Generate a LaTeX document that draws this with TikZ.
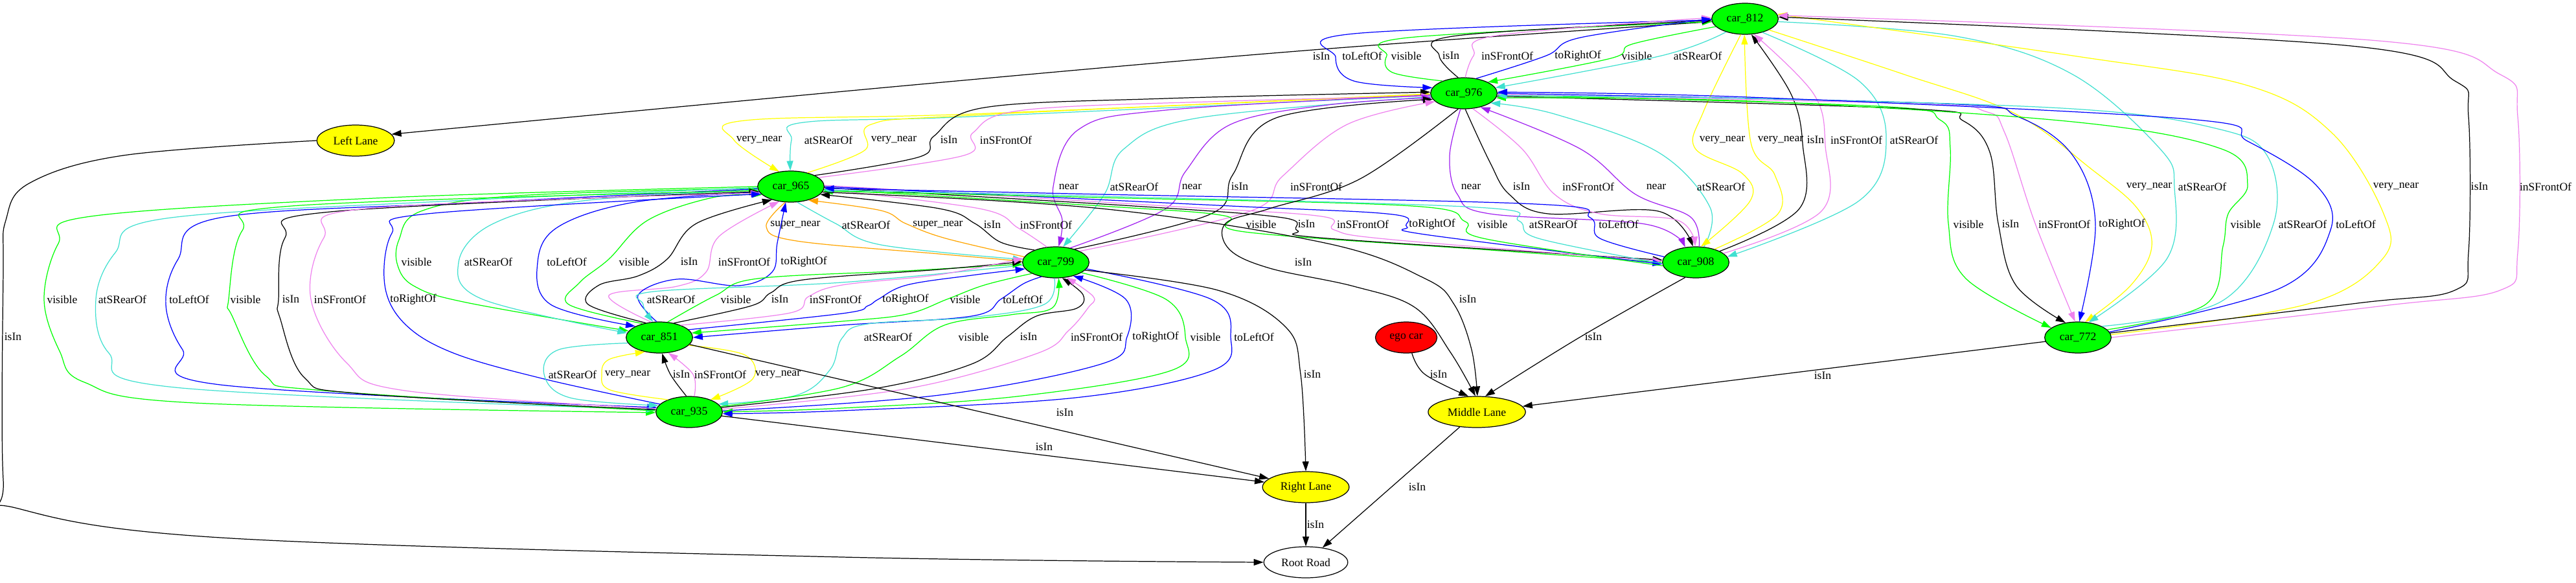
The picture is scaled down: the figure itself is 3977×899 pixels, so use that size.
\documentclass[tikz,border=0pt]{standalone}
\usepackage{fontspec}
\setmainfont{Liberation Serif}
\usepackage{tikz}
\usetikzlibrary{shapes.geometric, arrows.meta}
\definecolor{gvgreen}{RGB}{0,255,0}
\definecolor{gvblue}{RGB}{0,0,255}
\definecolor{gvturq}{RGB}{64,224,208}
\definecolor{gvviolet}{RGB}{238,130,238}
\definecolor{gvyellow}{RGB}{255,255,0}
\definecolor{gvorange}{RGB}{255,165,0}
\definecolor{gvpurple}{RGB}{160,32,240}
\definecolor{gvred}{RGB}{255,0,0}

\begin{document}
\begin{tikzpicture}[
            x=0.02cm, y=0.02cm,
            >={Triangle[length=0.3cm,width=0.2cm]},
            basenode/.style = {draw, ellipse, line width=0.7pt, inner xsep=0.16cm, inner ysep=0.1cm, minimum height=0.96cm, minimum width=1.44cm},
            carnode/.style = {basenode, fill=gvgreen},
            lanenode/.style = {basenode, fill=gvyellow},
            egonode/.style = {basenode, fill=gvred},
            roadnode/.style = {basenode, fill=white},
            lbl/.style = {text=black, inner sep=1pt},
            rel/.style = {->, line width=0.7pt, smooth, tension=0.6},
            isin/.style = {rel, color=black},
            leftof/.style = {rel, color=gvblue},
            rightof/.style = {rel, color=gvblue},
            vis/.style = {rel, color=gvgreen},
            rearof/.style = {rel, color=gvturq},
            frontof/.style = {rel, color=gvviolet},
            verynear/.style = {rel, color=gvyellow},
            nearrel/.style = {rel, color=gvpurple},
            supernear/.style = {rel, color=gvorange}
          ]
          \useasboundingbox (0,0) rectangle (3977,-899);

          % nodes
          \node[carnode] (c812) at (2694,-29) {car\_812};
          \node[carnode] (c976) at (2260,-144) {car\_976};
          \node[lanenode] (LL) at (549,-217) {Left Lane};
          \node[carnode] (c965) at (1221,-288) {car\_965};
          \node[carnode] (c799) at (1630,-405) {car\_799};
          \node[carnode] (c908) at (2618,-405) {car\_908};
          \node[carnode] (c851) at (1018,-521) {car\_851};
          \node[egonode] (ego) at (2171,-521) {ego car};
          \node[carnode] (c772) at (3208,-521) {car\_772};
          \node[carnode] (c935) at (1064,-636) {car\_935};
          \node[lanenode] (ML) at (2280,-636) {Middle Lane};
          \node[lanenode] (RL) at (2016,-752) {Right Lane};
          \node[roadnode] (RR) at (2016,-868) {Root Road};

          % car_812 / car_976
          \draw[isin] plot coordinates {(c812.185) (2040,-76) (1400,-132) (LL.10)} node[lbl] at (2040,-87) {isIn};
          \draw[leftof] plot coordinates {(c812.182) (2090,-52) (2062,-88) (2090,-125) (c976.170)} node[lbl] at (2103,-86) {toLeftOf};
          \draw[vis] plot coordinates {(c976.150) (2150,-112) (2141,-86) (2175,-58) (c812.185)} node[lbl] at (2171,-86) {visible};
          \draw[isin] plot coordinates {(c976.110) (2222,-86) (2250,-55) (c812.183)} node[lbl] at (2240,-86) {isIn};
          \draw[frontof] plot coordinates {(c976.85) (2275,-86) (2310,-55) (c812.178)} node[lbl] at (2327,-86) {inSFrontOf};
          \draw[rightof] plot coordinates {(c976.50) (2387,-86) (2440,-58) (c812.180)} node[lbl] at (2436,-86) {toRightOf};
          \draw[vis] plot coordinates {(c812.195) (2520,-68) (2487,-90) (c976.25)} node[lbl] at (2527,-86) {visible};
          \draw[rearof] plot coordinates {(c812.215) (2565,-86) (c976.10)} node[lbl] at (2621,-86) {atSRearOf};

          % car_976 / car_965
          \draw[verynear] plot coordinates {(c976.182) (1500,-176) (1150,-186) (1133,-216) (c965.128)} node[lbl] at (1172,-216) {very\_near};
          \draw[rearof] plot coordinates {(c976.184) (1500,-180) (1240,-189) (1222,-216) (c965.92)} node[lbl] at (1279,-216) {atSRearOf};
          \draw[verynear] plot coordinates {(c965.40) (1335,-232) (1345,-192) (1500,-178) (c976.181)} node[lbl] at (1380,-216) {very\_near};
          \draw[isin] plot coordinates {(c965.25) (1420,-242) (1442,-210) (1520,-166) (1800,-152) (c976.178)} node[lbl] at (1465,-216) {isIn};
          \draw[frontof] plot coordinates {(c965.18) (1488,-240) (1502,-205) (1580,-170) (1900,-156) (c976.185)} node[lbl] at (1553,-216) {inSFrontOf};

          % car_976 / car_799
          \draw[nearrel] plot coordinates {(c976.183) (1800,-170) (1665,-200) (1626,-288) (1640,-340) (c799.80)} node[lbl] at (1650,-288) {near};
          \draw[rearof] plot coordinates {(c976.186) (1850,-182) (1735,-230) (1705,-300) (c799.65)} node[lbl] at (1751,-288) {atSRearOf};
          \draw[nearrel] plot coordinates {(c799.45) (1800,-322) (1830,-265) (1900,-192) (2050,-162) (c976.188)} node[lbl] at (1840,-288) {near};
          \draw[isin] plot coordinates {(c799.35) (1870,-330) (1903,-270) (1970,-182) (c976.191)} node[lbl] at (1914,-288) {isIn};
          \draw[frontof] plot coordinates {(c799.25) (1930,-326) (1980,-272) (2080,-192) (c976.196)} node[lbl] at (2032,-288) {inSFrontOf};

          % car_976 / car_908
          \draw[nearrel] plot coordinates {(c976.258) (2238,-240) (2250,-300) (2300,-330) (2540,-346) (c908.125)} node[lbl] at (2271,-288) {near};
          \draw[isin] plot coordinates {(c976.275) (2300,-250) (2330,-300) (2390,-330) (2560,-326) (c908.100)} node[lbl] at (2349,-288) {isIn};
          \draw[frontof] plot coordinates {(c976.300) (2350,-230) (2400,-300) (2470,-330) (2590,-340) (c908.92)} node[lbl] at (2452,-288) {inSFrontOf};
          \draw[nearrel] plot coordinates {(c908.78) (2610,-335) (2525,-300) (2440,-230) (c976.320)} node[lbl] at (2557,-288) {near};
          \draw[rearof] plot coordinates {(c908.62) (2640,-320) (2560,-235) (2400,-176) (c976.340)} node[lbl] at (2657,-288) {atSRearOf};

          % car_812 / car_908
          \draw[verynear] plot coordinates {(c812.255) (2630,-172) (2617,-229) (2690,-268) (2702,-310) (c908.72)} node[lbl] at (2659,-216) {very\_near};
          \draw[verynear] plot coordinates {(c908.35) (2745,-330) (2740,-270) (2703,-220) (c812.268)} node[lbl] at (2749,-216) {very\_near};
          \draw[isin] plot coordinates {(c908.25) (2778,-322) (2783,-222) (2765,-145) (c812.292)} node[lbl] at (2803,-216) {isIn};
          \draw[frontof] plot coordinates {(c908.18) (2812,-326) (2818,-225) (2800,-145) (c812.300)} node[lbl] at (2866,-216) {inSFrontOf};
          \draw[rearof] plot coordinates {(c812.322) (2870,-125) (2912,-212) (2870,-310) (c908.10)} node[lbl] at (2955,-216) {atSRearOf};

          % car_812 / car_772
          \draw[verynear] plot coordinates {(c812.335) (2940,-115) (3110,-175) (3230,-262) (3300,-322) (3322,-380) (3290,-440) (c772.65)} node[lbl] at (3318,-288) {very\_near};
          \draw[rearof] plot coordinates {(c812.355) (3020,-56) (3200,-115) (3335,-230) (3357,-290) (3345,-400) (c772.55)} node[lbl] at (3400,-288) {atSRearOf};
          \draw[verynear] plot coordinates {(c772.5) (3560,-470) (3678,-400) (3680,-330) (3600,-205) (3470,-132) (3200,-86) (c812.8)} node[lbl] at (3699,-288) {very\_near};
          \draw[isin] plot coordinates {(c772.8) (3640,-468) (3790,-448) (3811,-390) (3811,-180) (3790,-125) (3620,-70) (c812.3)} node[lbl] at (3828,-288) {isIn};
          \draw[frontof] plot coordinates {(c772.0) (3680,-472) (3860,-448) (3887,-390) (3887,-180) (3860,-115) (3660,-62) (c812.6)} node[lbl] at (3930,-288) {inSFrontOf};

          % car_976 / car_772
          \draw[vis] plot coordinates {(c976.357) (2900,-164) (2995,-185) (3011,-230) (3008,-345) (3035,-430) (c772.160)} node[lbl] at (3039,-346) {visible};
          \draw[isin] plot coordinates {(c976.355) (2950,-168) (3030,-186) (3072,-235) (3085,-345) (3112,-440) (c772.130)} node[lbl] at (3104,-346) {isIn};
          \draw[frontof] plot coordinates {(c976.358) (2950,-160) (3065,-172) (3095,-205) (3142,-345) (c772.100)} node[lbl] at (3187,-346) {inSFrontOf};
          \draw[rightof] plot coordinates {(c976.0) (3000,-160) (3115,-180) (3200,-240) (3235,-345) (c772.85)} node[lbl] at (3276,-346) {toRightOf};
          \draw[vis] plot coordinates {(c772.15) (3405,-470) (3432,-380) (3440,-330) (3470,-285) (3430,-230) (3200,-188) (2700,-156) (c976.352)} node[lbl] at (3467,-346) {visible};
          \draw[rearof] plot coordinates {(c772.25) (3430,-465) (3510,-345) (3500,-240) (3420,-198) (3200,-168) (2700,-152) (c976.356)} node[lbl] at (3555,-346) {atSRearOf};
          \draw[leftof] plot coordinates {(c772.10) (3520,-445) (3598,-355) (3575,-285) (3470,-218) (3380,-184) (2700,-150) (c976.2)} node[lbl] at (3637,-346) {toLeftOf};

          % car_965 / car_799
          \draw[supernear] plot coordinates {(c965.250) (1183,-350) (1230,-372) (1450,-392) (c799.178)} node[lbl] at (1228,-347) {super\_near};
          \draw[rearof] plot coordinates {(c965.292) (1290,-345) (1360,-378) (c799.175)} node[lbl] at (1337,-347) {atSRearOf};
          \draw[supernear] plot coordinates {(c799.170) (1460,-368) (1398,-345) (1360,-325) (c965.322)} node[lbl] at (1448,-347) {super\_near};
          \draw[isin] plot coordinates {(c799.150) (1545,-374) (1505,-345) (1450,-322) (c965.345)} node[lbl] at (1532,-347) {isIn};
          \draw[frontof] plot coordinates {(c799.120) (1572,-352) (1512,-322) (c965.355)} node[lbl] at (1615,-347) {inSFrontOf};

          % car_965 / car_908
          \draw[vis] plot coordinates {(c965.355) (1700,-318) (1890,-333) (1922,-358) (2300,-386) (c908.180)} node[lbl] at (1947,-346) {visible};
          \draw[isin] plot coordinates {(c965.358) (1750,-318) (1980,-336) (2003,-356) (2050,-368) (c908.176)} node[lbl] at (2017,-346) {isIn};
          \draw[frontof] plot coordinates {(c965.2) (1800,-318) (2040,-334) (2060,-355) (2150,-370) (c908.178)} node[lbl] at (2104,-346) {inSFrontOf};
          \draw[rightof] plot coordinates {(c965.0) (1900,-318) (2150,-331) (2172,-350) (2200,-362) (c908.183)} node[lbl] at (2211,-346) {toRightOf};
          \draw[vis] plot coordinates {(c908.186) (2290,-368) (2262,-342) (2180,-318) (1700,-305) (c965.352)} node[lbl] at (2304,-346) {visible};
          \draw[rearof] plot coordinates {(c908.182) (2375,-368) (2345,-341) (2280,-320) (1700,-303) (c965.354)} node[lbl] at (2398,-346) {atSRearOf};
          \draw[leftof] plot coordinates {(c908.170) (2470,-368) (2455,-336) (2370,-315) (1700,-300) (c965.357)} node[lbl] at (2499,-346) {toLeftOf};

          % lanes of car_965 and car_976
          \draw[isin] plot coordinates {(c965.350) (1700,-322) (2050,-376) (2200,-430) (2245,-470) (2272,-540) (ML.88)} node[lbl] at (2266,-462) {isIn};
          \draw[isin] plot coordinates {(c976.250) (2100,-276) (1960,-322) (1892,-345) (1898,-385) (1960,-414) (2090,-442) (2185,-475) (2240,-545) (ML.95)} node[lbl] at (2012,-405) {isIn};

          % car_965 / car_851
          \draw[vis] plot coordinates {(c965.183) (800,-302) (650,-326) (616,-370) (614,-410) (640,-442) (720,-467) (c851.168)} node[lbl] at (643,-404) {visible};
          \draw[rearof] plot coordinates {(c965.186) (900,-310) (760,-346) (708,-405) (745,-462) (c851.172)} node[lbl] at (754,-404) {atSRearOf};
          \draw[leftof] plot coordinates {(c965.190) (980,-312) (862,-350) (830,-405) (850,-470) (c851.155)} node[lbl] at (875,-404) {toLeftOf};
          \draw[vis] plot coordinates {(c851.140) (878,-470) (895,-436) (940,-400) (1000,-340) (1100,-305) (c965.196)} node[lbl] at (979,-404) {visible};
          \draw[isin] plot coordinates {(c851.133) (908,-470) (925,-440) (985,-426) (1030,-400) (1075,-345) (c965.215)} node[lbl] at (1064,-404) {isIn};
          \draw[frontof] plot coordinates {(c851.118) (940,-456) (1045,-442) (1090,-420) (1110,-365) (c965.232)} node[lbl] at (1149,-404) {inSFrontOf};
          \draw[rightof] plot coordinates {(c851.100) (985,-456) (1045,-431) (1140,-441) (1192,-420) (1200,-375) (c965.252)} node[lbl] at (1241,-404) {toRightOf};

          % car_965 / car_935
          \draw[vis] plot coordinates {(c965.180) (600,-305) (140,-334) (90,-376) (68,-462) (92,-542) (130,-590) (300,-622) (c935.181)} node[lbl] at (96,-462) {visible};
          \draw[rearof] plot coordinates {(c965.182) (700,-310) (250,-338) (178,-390) (148,-462) (168,-545) (270,-598) (c935.176)} node[lbl] at (189,-462) {atSRearOf};
          \draw[leftof] plot coordinates {(c965.184) (750,-312) (340,-336) (275,-400) (256,-470) (282,-540) (340,-594) (c935.172)} node[lbl] at (292,-462) {toLeftOf};
          \draw[vis] plot coordinates {(c935.178) (500,-603) (410,-580) (358,-487) (353,-462) (374,-356) (450,-318) (c965.187)} node[lbl] at (379,-462) {visible};
          \draw[isin] plot coordinates {(c935.176) (560,-608) (470,-583) (432,-490) (430,-462) (440,-367) (510,-327) (c965.189)} node[lbl] at (449,-462) {isIn};
          \draw[frontof] plot coordinates {(c935.174) (625,-603) (535,-560) (480,-462) (500,-367) (565,-322) (c965.192)} node[lbl] at (525,-462) {inSFrontOf};
          \draw[rightof] plot coordinates {(c935.165) (840,-585) (700,-545) (625,-500) (594,-440) (605,-360) (660,-330) (c965.194)} node[lbl] at (638,-462) {toRightOf};

          % car_851 / car_799
          \draw[rearof] plot coordinates {(c799.185) (1300,-436) (1010,-450) (993,-470) (c851.112)} node[lbl] at (1036,-462) {atSRearOf};
          \draw[vis] plot coordinates {(c851.62) (1105,-456) (1170,-430) (1400,-418) (c799.183)} node[lbl] at (1136,-462) {visible};
          \draw[isin] plot coordinates {(c851.45) (1160,-472) (1190,-452) (1240,-432) (1450,-416) (c799.179)} node[lbl] at (1204,-462) {isIn};
          \draw[frontof] plot coordinates {(c851.30) (1220,-483) (1248,-458) (1300,-440) (1450,-424) (c799.173)} node[lbl] at (1290,-462) {inSFrontOf};
          \draw[rightof] plot coordinates {(c851.15) (1300,-484) (1340,-472) (1356,-462) (1400,-440) (1500,-425) (c799.192)} node[lbl] at (1398,-462) {toRightOf};
          \draw[vis] plot coordinates {(c799.205) (1520,-440) (1462,-462) (1400,-485) (1300,-496) (c851.8)} node[lbl] at (1490,-462) {visible};
          \draw[leftof] plot coordinates {(c799.225) (1580,-438) (1545,-462) (1500,-488) (1300,-502) (c851.0)} node[lbl] at (1579,-462) {toLeftOf};

          % car_935 / car_799
          \draw[rearof] plot coordinates {(c799.265) (1612,-470) (1500,-490) (1340,-500) (1300,-522) (1282,-570) (1230,-610) (c935.15)} node[lbl] at (1371,-520) {atSRearOf};
          \draw[vis] plot coordinates {(c935.10) (1300,-598) (1390,-550) (1458,-502) (1560,-486) (1625,-475) (c799.280)} node[lbl] at (1503,-520) {visible};
          \draw[isin] plot coordinates {(c935.8) (1350,-600) (1500,-562) (1555,-520) (1600,-488) (1662,-476) (1672,-455) (c799.292)} node[lbl] at (1588,-520) {isIn};
          \draw[frontof] plot coordinates {(c935.5) (1400,-600) (1600,-546) (1650,-510) (1680,-475) (1688,-458) (c799.305)} node[lbl] at (1693,-520) {inSFrontOf};
          \draw[rightof] plot coordinates {(c935.2) (1450,-610) (1700,-562) (1740,-520) (1738,-462) (c799.322)} node[lbl] at (1784,-520) {toRightOf};
          \draw[vis] plot coordinates {(c799.338) (1800,-462) (1830,-520) (1808,-572) (1570,-612) (1300,-630) (c935.0)} node[lbl] at (1861,-520) {visible};
          \draw[leftof] plot coordinates {(c799.348) (1870,-462) (1900,-520) (1872,-572) (1660,-614) (1300,-634) (c935.357)} node[lbl] at (1936,-520) {toLeftOf};

          % car_851 / car_935
          \draw[rearof] plot coordinates {(c851.190) (862,-540) (840,-578) (880,-614) (c935.168)} node[lbl] at (884,-578) {atSRearOf};
          \draw[verynear] plot coordinates {(c935.150) (942,-602) (929,-578) (940,-555) (c851.225)} node[lbl] at (969,-578) {very\_near};
          \draw[isin] plot coordinates {(c935.100) (1035,-578) (c851.280)} node[lbl] at (1052,-578) {isIn};
          \draw[frontof] plot coordinates {(c935.72) (1070,-578) (c851.300)} node[lbl] at (1112,-578) {inSFrontOf};
          \draw[verynear] plot coordinates {(c851.345) (1150,-548) (1162,-585) (c935.30)} node[lbl] at (1201,-578) {very\_near};

          % lanes and road
          \draw[isin] (c851) -- (RL) node[lbl] at (1644,-637) {isIn};
          \draw[isin] (c935) -- (RL) node[lbl] at (1612,-690) {isIn};
          \draw[isin] plot coordinates {(c799.345) (1880,-448) (1985,-505) (2008,-578) (RL.90)} node[lbl] at (2026,-578) {isIn};
          \draw[isin] plot coordinates {(ego.290) (2200,-578) (ML.118)} node[lbl] at (2221,-578) {isIn};
          \draw[isin] plot coordinates {(c908.235) (2440,-520) (ML.62)} node[lbl] at (2460,-520) {isIn};
          \draw[isin] (c772) -- (ML) node[lbl] at (2814,-580) {isIn};
          \draw[isin] (ML) -- (RR) node[lbl] at (2188,-752) {isIn};
          \draw[isin] (RL) -- (RR) node[lbl] at (2031,-810) {isIn};
          \draw[isin] plot coordinates {(LL.180) (190,-240) (45,-283) (9,-340) (5,-420) (5,-740) (28,-785) (357,-831) (1300,-860) (RR.180)} node[lbl] at (20,-520) {isIn};
        \end{tikzpicture}
\end{document}
